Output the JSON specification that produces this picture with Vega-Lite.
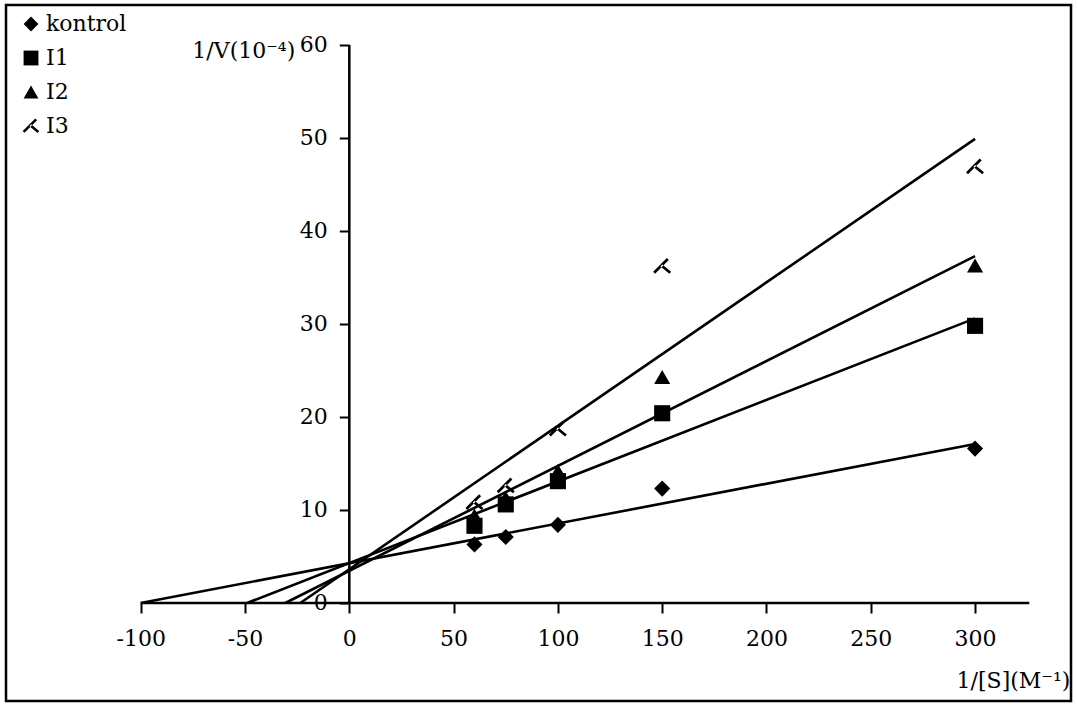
{
  "$schema": "https://vega.github.io/schema/vega-lite/v6.json",
  "width": 1065,
  "height": 696,
  "autosize": {"type": "none"},
  "padding": {"left": 6, "top": 5, "right": 6, "bottom": 6},
  "background": "white",
  "config": {
    "view": {"stroke": "black", "strokeWidth": 2.5},
    "font": "DejaVu Serif"
  },
  "datasets": {
    "points": [
      {"series": "kontrol", "x": 60, "y": 6.3},
      {"series": "kontrol", "x": 75, "y": 7.1},
      {"series": "kontrol", "x": 100, "y": 8.4},
      {"series": "kontrol", "x": 150, "y": 12.3},
      {"series": "kontrol", "x": 300, "y": 16.6},
      {"series": "I1", "x": 60, "y": 8.3},
      {"series": "I1", "x": 75, "y": 10.6},
      {"series": "I1", "x": 100, "y": 13.1},
      {"series": "I1", "x": 150, "y": 20.4},
      {"series": "I1", "x": 300, "y": 29.8},
      {"series": "I2", "x": 60, "y": 9.4},
      {"series": "I2", "x": 75, "y": 11.3},
      {"series": "I2", "x": 100, "y": 14.2},
      {"series": "I2", "x": 150, "y": 24.3},
      {"series": "I2", "x": 300, "y": 36.3},
      {"series": "I3", "x": 60, "y": 10.8},
      {"series": "I3", "x": 75, "y": 12.6},
      {"series": "I3", "x": 100, "y": 18.7},
      {"series": "I3", "x": 150, "y": 36.2},
      {"series": "I3", "x": 300, "y": 46.9}
    ],
    "lines": [
      {"series": "kontrol", "x": -100, "y": 0},
      {"series": "kontrol", "x": 300, "y": 17.1},
      {"series": "I1", "x": -49, "y": 0},
      {"series": "I1", "x": 300, "y": 30.6},
      {"series": "I2", "x": -30.7, "y": 0},
      {"series": "I2", "x": 300, "y": 37.3},
      {"series": "I3", "x": -23.5, "y": 0},
      {"series": "I3", "x": 300, "y": 49.9}
    ],
    "axes": [
      {"x": -100, "x2": 326, "y": 0, "y2": 0},
      {"x": 0, "x2": 0, "y": 0, "y2": 60}
    ]
  },
  "encoding": {
    "x": {
      "field": "x",
      "type": "quantitative",
      "scale": {"domain": [-164.6, 346.0], "nice": false, "zero": false},
      "axis": {
        "values": [-100, -50, 0, 50, 100, 150, 200, 250, 300],
        "labelExpr": "'' + datum.value",
        "offset": -98,
        "domain": false,
        "grid": false,
        "tickSize": 10,
        "tickWidth": 2,
        "tickColor": "black",
        "labelFontSize": 22,
        "labelColor": "black",
        "labelPadding": 15,
        "labelFlush": false,
        "labelOverlap": false,
        "title": "1/[S](M⁻¹)",
        "titleX": 1007,
        "titleY": 77,
        "titleFontSize": 22,
        "titleFontWeight": "normal",
        "titleColor": "black",
        "titleAlign": "center",
        "titleBaseline": "middle"
      }
    },
    "y": {
      "field": "y",
      "type": "quantitative",
      "scale": {"domain": [-10.54, 64.3], "nice": false, "zero": false},
      "axis": {
        "values": [0, 10, 20, 30, 40, 50, 60],
        "offset": -343.3,
        "domain": false,
        "grid": false,
        "tickSize": 10,
        "tickWidth": 2,
        "tickColor": "black",
        "labelFontSize": 22,
        "labelColor": "black",
        "labelPadding": 12,
        "labelOverlap": false,
        "title": "1/V(10⁻⁴)",
        "titleAngle": 0,
        "titleX": -106,
        "titleY": 45,
        "titleFontSize": 22,
        "titleFontWeight": "normal",
        "titleColor": "black",
        "titleAlign": "center",
        "titleBaseline": "middle"
      }
    }
  },
  "layer": [
    {
      "data": {"name": "axes"},
      "mark": {"type": "rule", "color": "black", "strokeWidth": 2.5},
      "encoding": {
        "x2": {"field": "x2"},
        "y2": {"field": "y2"}
      }
    },
    {
      "data": {"name": "lines"},
      "mark": {"type": "line", "color": "black", "strokeWidth": 2.6},
      "encoding": {
        "detail": {"field": "series"}
      }
    },
    {
      "data": {"name": "points"},
      "mark": {"type": "point", "filled": true, "fill": "black", "strokeWidth": 0, "opacity": 1, "size": 260},
      "encoding": {
        "shape": {
          "field": "series",
          "type": "nominal",
          "scale": {
            "domain": ["kontrol", "I1", "I2", "I3"],
            "range": ["diamond", "square", "triangle-up", "M0.82,-0.78L-0.88,0.92L-1.12,0.68L0.58,-1.02ZM-0.208,0.032L0.892,0.932L1.108,0.668L0.008,-0.232Z"]
          },
          "legend": {
            "title": null,
            "orient": "none",
            "legendX": 14,
            "legendY": 8,
            "padding": 0,
            "labelFontSize": 22,
            "labelColor": "black",
            "labelOffset": 4,
            "rowPadding": 12,
            "symbolSize": 220,
            "symbolFillColor": "black",
            "symbolStrokeWidth": 0,
            "symbolOpacity": 1
          }
        }
      }
    }
  ]
}
